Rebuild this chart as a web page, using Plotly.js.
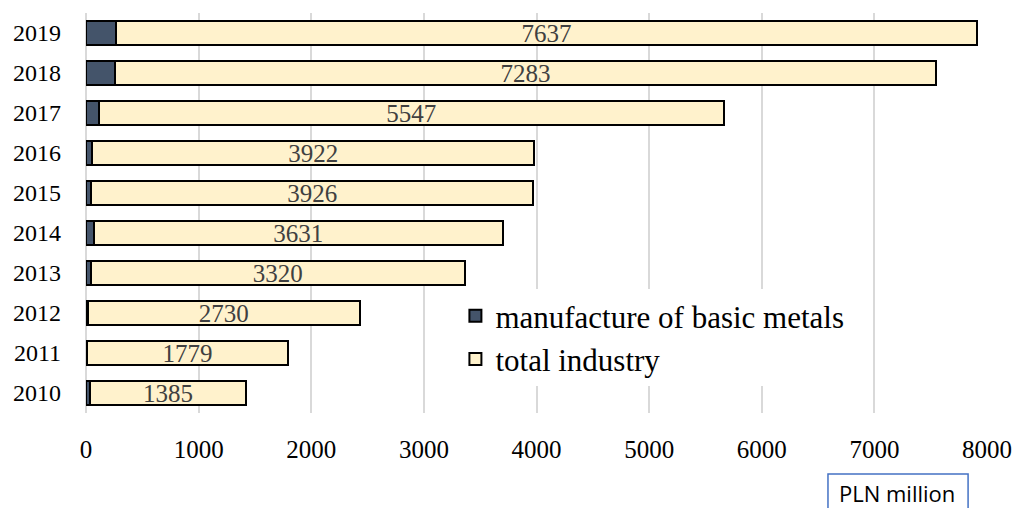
<!DOCTYPE html>
<html>
<head>
<meta charset="utf-8">
<script src="https://cdn.plot.ly/plotly-3.0.1.min.js"></script>
<style>
  html, body { margin: 0; padding: 0; background: #ffffff; }
  #chart { width: 1016px; height: 508px; }
</style>
</head>
<body>
<div id="chart"></div>
<script>
const years = ['2010', '2011', '2012', '2013', '2014', '2015', '2016', '2017', '2018', '2019'];
const basicMetals = [36, 12, 15, 42, 70, 45, 57, 115, 260, 270];
const totalIndustry = [1385, 1779, 2415, 3320, 3631, 3926, 3922, 5547, 7283, 7637];
const totalLabels = ['1385', '1779', '2730', '3320', '3631', '3926', '3922', '5547', '7283', '7637'];
const xTicks = [0, 1000, 2000, 3000, 4000, 5000, 6000, 7000, 8000];
const seriesNames = ['manufacture of basic metals', 'total industry'];
const unitLabel = 'PLN million';

const serif = 'Liberation Serif, Times New Roman, serif';

const traces = [
  {
    type: 'bar',
    orientation: 'h',
    name: seriesNames[0],
    y: years,
    x: basicMetals,
    marker: { color: '#44546a', line: { color: '#000000', width: 2 } },
    hoverinfo: 'skip'
  },
  {
    type: 'bar',
    orientation: 'h',
    name: seriesNames[1],
    y: years,
    x: totalIndustry,
    text: totalLabels,
    textposition: 'inside',
    insidetextanchor: 'middle',
    textangle: 0,
    constraintext: 'none',
    insidetextfont: { family: serif, size: 25, color: '#404040' },
    marker: { color: '#fff2cc', line: { color: '#000000', width: 2 } },
    hoverinfo: 'skip'
  }
];

const layout = {
  width: 1016,
  height: 508,
  margin: { l: 86, r: 29, t: 13, b: 95 },
  paper_bgcolor: '#ffffff',
  plot_bgcolor: '#ffffff',
  barmode: 'stack',
  bargap: 0.4,
  showlegend: true,
  legend: {
    x: 0.41, y: 0.31, xanchor: 'left', yanchor: 'top',
    bgcolor: '#ffffff',
    traceorder: 'normal',
    tracegroupgap: 0,
    font: { family: serif, size: 31, color: '#000000' },
    itemwidth: 30
  },
  xaxis: {
    range: [0, 8000],
    tickvals: xTicks,
    ticktext: xTicks.map(String),
    showgrid: true,
    gridcolor: '#d9d9d9',
    gridwidth: 2,
    zeroline: true,
    zerolinecolor: '#d9d9d9',
    zerolinewidth: 2,
    showline: false,
    ticks: '',
    ticklabelstandoff: 19,
    tickfont: { family: serif, size: 25, color: '#000000' }
  },
  yaxis: {
    type: 'category',
    categoryorder: 'array',
    categoryarray: years,
    showgrid: false,
    zeroline: false,
    showline: false,
    ticks: '',
    ticklabelstandoff: 24,
    tickfont: { family: serif, size: 24, color: '#000000' }
  },
  shapes: [
    {
      type: 'rect', xref: 'paper', yref: 'paper',
      x0: 0.8235, x1: 0.979, y0: -0.1525, y1: -0.245,
      line: { color: '#4472c4', width: 1.5 },
      fillcolor: 'rgba(0,0,0,0)'
    }
  ],
  annotations: [
    {
      xref: 'paper', yref: 'paper',
      x: 0.9, y: -0.2,
      xanchor: 'center', yanchor: 'middle',
      text: unitLabel,
      showarrow: false,
      font: { family: 'Open Sans, Noto Sans, sans-serif', size: 22, color: '#000000' }
    }
  ]
};

Plotly.newPlot('chart', traces, layout, { displayModeBar: false, staticPlot: true });
</script>
</body>
</html>
